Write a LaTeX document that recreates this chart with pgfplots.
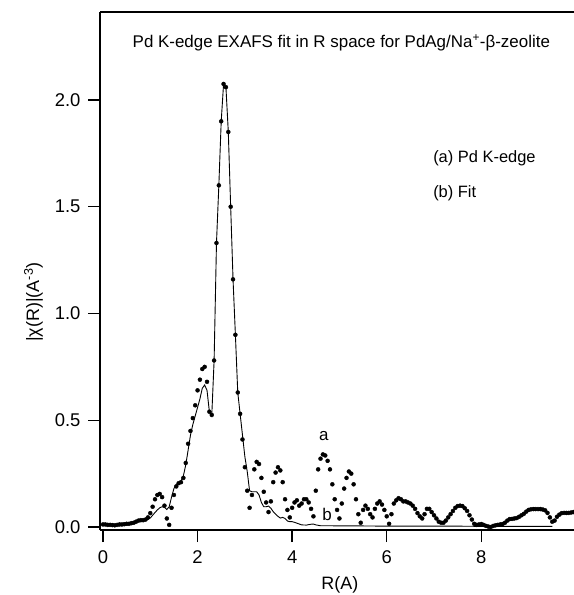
\documentclass[border=0pt]{standalone}
\usepackage{fontspec}
\setmainfont{Liberation Sans}
\usepackage{pgfplots}
\pgfplotsset{compat=1.18}
\usepackage{pgfplotstable}
\pgfplotstableread{
R v
0.00 0.012
0.05 0.012
0.10 0.010
0.15 0.010
0.20 0.009
0.25 0.008
0.30 0.010
0.35 0.012
0.40 0.012
0.45 0.013
0.50 0.015
0.55 0.015
0.60 0.018
0.65 0.020
0.70 0.025
0.75 0.030
0.80 0.032
0.85 0.032
0.90 0.035
0.95 0.045
1.00 0.065
1.05 0.095
1.10 0.130
1.15 0.150
1.20 0.155
1.25 0.140
1.30 0.100
1.35 0.040
1.40 0.010
1.45 0.090
1.50 0.150
1.55 0.190
1.60 0.205
1.65 0.210
1.70 0.230
1.75 0.300
1.80 0.390
1.85 0.450
1.90 0.510
1.95 0.570
2.00 0.640
2.05 0.690
2.10 0.740
2.15 0.750
2.20 0.680
2.25 0.540
2.30 0.525
2.35 0.780
2.40 1.330
2.45 1.600
2.50 1.900
2.55 2.075
2.60 2.060
2.65 1.850
2.70 1.500
2.75 1.160
2.80 0.900
2.85 0.630
2.90 0.530
2.95 0.410
3.00 0.280
3.05 0.170
3.10 0.090
3.15 0.150
3.20 0.270
3.25 0.305
3.30 0.295
3.35 0.230
3.40 0.165
3.45 0.115
3.50 0.070
3.55 0.120
3.60 0.210
3.65 0.255
3.70 0.280
3.75 0.265
3.80 0.210
3.85 0.130
3.90 0.080
3.95 0.045
4.00 0.090
4.05 0.115
4.10 0.125
4.15 0.100
4.20 0.110
4.25 0.130
4.30 0.130
4.35 0.115
4.40 0.085
4.45 0.050
4.50 0.170
4.55 0.270
4.60 0.320
4.65 0.340
4.70 0.335
4.75 0.310
4.80 0.270
4.85 0.200
4.90 0.130
4.95 0.080
5.00 0.040
5.05 0.110
5.10 0.180
5.15 0.230
5.20 0.260
5.25 0.250
5.30 0.200
5.35 0.130
5.40 0.060
5.45 0.020
5.50 0.080
5.55 0.100
5.60 0.085
5.65 0.060
5.70 0.045
5.75 0.085
5.80 0.110
5.85 0.120
5.90 0.105
5.95 0.080
6.00 0.050
6.05 0.015
6.10 0.060
6.15 0.110
6.20 0.125
6.25 0.135
6.30 0.130
6.35 0.120
6.40 0.120
6.45 0.115
6.50 0.110
6.55 0.100
6.60 0.085
6.65 0.065
6.70 0.050
6.75 0.040
6.80 0.060
6.85 0.085
6.90 0.085
6.95 0.070
7.00 0.055
7.05 0.040
7.10 0.025
7.15 0.020
7.20 0.020
7.25 0.030
7.30 0.045
7.35 0.060
7.40 0.075
7.45 0.090
7.50 0.098
7.55 0.100
7.60 0.098
7.65 0.088
7.70 0.075
7.75 0.055
7.80 0.035
7.85 0.015
7.90 0.010
7.95 0.012
8.00 0.014
8.05 0.010
8.10 0.005
8.15 0.002
8.20 0.000
8.25 0.005
8.30 0.008
8.35 0.010
8.40 0.012
8.45 0.014
8.50 0.020
8.55 0.030
8.60 0.037
8.65 0.038
8.70 0.040
8.75 0.042
8.80 0.048
8.85 0.055
8.90 0.062
8.95 0.072
9.00 0.080
9.05 0.083
9.10 0.084
9.15 0.084
9.20 0.084
9.25 0.084
9.30 0.082
9.35 0.078
9.40 0.066
9.45 0.045
9.50 0.025
9.55 0.030
9.60 0.048
9.65 0.058
9.70 0.065
9.75 0.066
9.80 0.066
9.85 0.066
9.90 0.068
9.95 0.070
}\dataA
\pgfplotstableread{
R v
0.00 0.012
0.10 0.010
0.20 0.009
0.30 0.010
0.40 0.012
0.50 0.015
0.60 0.018
0.70 0.025
0.80 0.030
0.90 0.033
0.95 0.035
1.00 0.042
1.05 0.055
1.10 0.068
1.15 0.080
1.20 0.090
1.25 0.095
1.30 0.092
1.35 0.082
1.40 0.095
1.45 0.140
1.50 0.180
1.55 0.200
1.60 0.205
1.65 0.215
1.70 0.240
1.75 0.290
1.80 0.360
1.85 0.430
1.90 0.480
1.95 0.520
2.00 0.560
2.05 0.600
2.10 0.650
2.15 0.665
2.20 0.640
2.25 0.540
2.30 0.520
2.35 0.780
2.40 1.330
2.45 1.600
2.50 1.900
2.55 2.075
2.60 2.060
2.65 1.850
2.70 1.500
2.75 1.160
2.80 0.900
2.85 0.630
2.90 0.530
2.95 0.430
3.00 0.330
3.05 0.260
3.10 0.170
3.15 0.165
3.20 0.165
3.25 0.165
3.30 0.150
3.35 0.115
3.40 0.095
3.45 0.095
3.50 0.098
3.55 0.088
3.60 0.072
3.65 0.060
3.70 0.050
3.75 0.042
3.80 0.045
3.85 0.040
3.90 0.028
3.95 0.025
4.00 0.025
4.05 0.022
4.10 0.018
4.15 0.014
4.20 0.010
4.30 0.009
4.40 0.013
4.45 0.014
4.50 0.010
4.60 0.006
4.80 0.006
5.00 0.005
5.50 0.005
6.00 0.004
6.50 0.004
7.00 0.004
7.50 0.004
8.00 0.003
8.50 0.003
9.00 0.003
9.50 0.003
}\dataB
\begin{document}
\begin{tikzpicture}
\begin{axis}[
  name=ax,
  at={(100bp,65bp)}, anchor=south west,
  scale only axis, width=474bp, height=518bp,
  xmin=-0.063, xmax=9.96, ymin=-0.014, ymax=2.412,
  axis x line*=bottom, axis y line*=left,
  axis line style={line width=1.3pt, black},
  tick align=outside,
  major tick length=12bp,
  tick style={line width=1.3pt, black},
  xtick={0,2,4,6,8},
  ytick={0,0.5,1,1.5,2},
  minor tick num=0,
  /pgf/number format/assume math mode=true,
  yticklabel style={/pgf/number format/fixed, /pgf/number format/fixed zerofill, /pgf/number format/precision=1, font=\fontsize{18.5}{20}\selectfont, xshift=-4bp},
  xticklabel style={font=\fontsize{18.5}{20}\selectfont, yshift=-5bp},
  xlabel={R(A)},
  ylabel={|χ(R)|(A\textsuperscript{-3})},
  xlabel style={font=\fontsize{18}{20}\selectfont, at={(axis description cs:0.506,-0.106)}, anchor=center},
  ylabel style={font=\fontsize{18}{20}\selectfont, at={(axis description cs:-0.14,0.44)}, anchor=center, rotate=0},
]
\addplot[only marks, mark=*, mark size=2bp, black] table[x=R, y=v] {\dataA};
\addplot[black, line width=0.9pt] table[x=R, y=v] {\dataB};
\node[font=\fontsize{17}{20}\selectfont] at (axis cs:5.04,2.267) {Pd K-edge EXAFS fit in R space for PdAg/Na\textsuperscript{+}-β-zeolite};
\node[font=\fontsize{16.5}{18}\selectfont, anchor=west, inner sep=0pt] at (axis cs:6.98,1.728) {(a) Pd K-edge};
\node[font=\fontsize{16.5}{18}\selectfont, anchor=west, inner sep=0pt] at (axis cs:6.98,1.564) {(b) Fit};
\node[font=\fontsize{17}{20}\selectfont] at (axis cs:4.67,0.426) {a};
\node[font=\fontsize{17}{20}\selectfont] at (axis cs:4.74,0.061) {b};
\end{axis}
\draw[line width=1.3pt] (ax.north west) -- (ax.north east);
\pgfresetboundingbox
\path[use as bounding box] (0,0) rectangle (574bp,595bp);
\end{tikzpicture}
\end{document}
